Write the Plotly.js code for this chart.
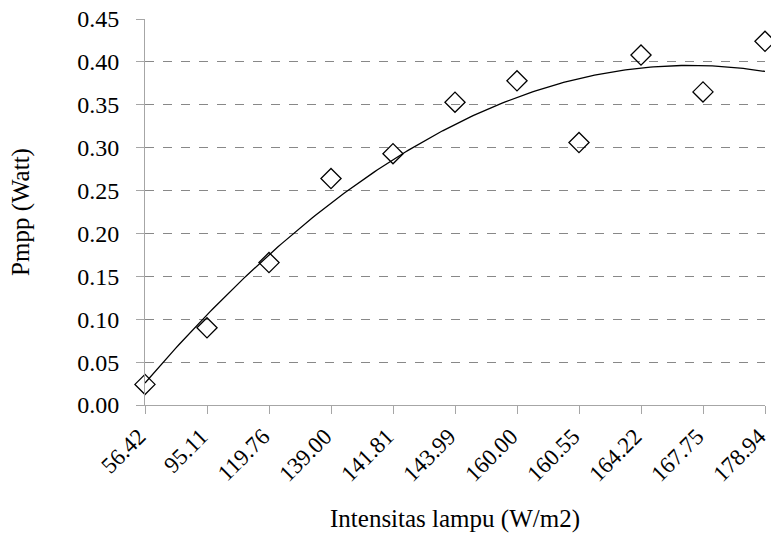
<!DOCTYPE html>
<html>
<head>
<meta charset="utf-8">
<script src="https://cdn.plot.ly/plotly-3.0.1.min.js"></script>
<style>html,body{margin:0;padding:0;background:#fff}#chart{width:771px;height:540px}</style>
</head>
<body>
<div id="chart"></div>
<script>
// Data
const intensityLabels = ["56.42","95.11","119.76","139.00","141.81","143.99","160.00","160.55","164.22","167.75","178.94"];
const pmppValues = [0.024, 0.090, 0.166, 0.264, 0.293, 0.353, 0.378, 0.306, 0.408, 0.365, 0.424];
const yTickValues = [0,0.05,0.10,0.15,0.20,0.25,0.30,0.35,0.40,0.45];

// category positions
const idx = intensityLabels.map((_, i) => i);

// Polynomial (order 2) trendline fitted to the data (least squares)
function polyFit2(xs, ys) {
  let n = xs.length, sx=0, sx2=0, sx3=0, sx4=0, sy=0, sxy=0, sx2y=0;
  for (let i=0;i<n;i++){const x=xs[i],y=ys[i];sx+=x;sx2+=x*x;sx3+=x*x*x;sx4+=x*x*x*x;sy+=y;sxy+=x*y;sx2y+=x*x*y;}
  const A=[[n,sx,sx2,sy],[sx,sx2,sx3,sxy],[sx2,sx3,sx4,sx2y]];
  for (let c=0;c<3;c++){
    let p=c; for(let r=c+1;r<3;r++) if(Math.abs(A[r][c])>Math.abs(A[p][c])) p=r;
    [A[c],A[p]]=[A[p],A[c]];
    for(let r=0;r<3;r++){ if(r===c) continue; const f=A[r][c]/A[c][c]; for(let k=c;k<4;k++) A[r][k]-=f*A[c][k]; }
  }
  return [A[0][3]/A[0][0], A[1][3]/A[1][1], A[2][3]/A[2][2]];
}
const coef = polyFit2(idx, pmppValues);
const trendX = [], trendY = [];
for (let k=0;k<=200;k++){ const t = k*(idx.length-1)/200; trendX.push(t); trendY.push(coef[0]+coef[1]*t+coef[2]*t*t); }

const FAMILY = 'Liberation Serif, Times New Roman, serif';
const mkFont = (s) => ({family: FAMILY, size: s, color: '#000'});

const data = [
  {x: trendX, y: trendY, mode: 'lines', type: 'scatter', line: {color: '#000', width: 1.3}, hoverinfo: 'skip', cliponaxis: false},
  {x: idx, y: pmppValues, mode: 'markers', type: 'scatter',
   marker: {symbol: 'diamond-open', size: 15.5, color: '#000', line: {color: '#000', width: 1.3}}, cliponaxis: false}
];

const layout = {
  width: 771, height: 540,
  margin: {l: 145, r: 6, t: 18.5, b: 134.5},
  paper_bgcolor: '#fff', plot_bgcolor: '#fff',
  showlegend: false,
  font: mkFont(24),
  xaxis: {
    range: [0, idx.length-1], tickvals: idx, ticktext: intensityLabels,
    tickangle: -45, ticks: 'outside', ticklen: 8, tickcolor: '#a6a6a6', tickwidth: 1,
    ticklabeloverflow: 'allow', ticklabelshift: -6,
    showline: true, linecolor: '#a6a6a6', linewidth: 1, showgrid: false, zeroline: false,
    tickfont: mkFont(23),
    title: {text: 'Intensitas lampu (W/m2)', font: mkFont(25), standoff: 24}
  },
  yaxis: {
    range: [0, 0.45], tickvals: yTickValues, tickformat: '.2f',
    ticks: 'outside', ticklen: 8, tickcolor: '#a6a6a6', tickwidth: 1,
    ticklabelstandoff: 12, ticklabeloverflow: 'allow',
    showline: true, linecolor: '#a6a6a6', linewidth: 1,
    showgrid: true, gridcolor: '#888', griddash: 'dash', gridwidth: 1, zeroline: false,
    tickfont: mkFont(24),
    title: {text: 'Pmpp (Watt)', font: mkFont(25), standoff: 40}
  }
};

Plotly.newPlot('chart', data, layout, {displayModeBar: false, staticPlot: true});
</script>
</body>
</html>
